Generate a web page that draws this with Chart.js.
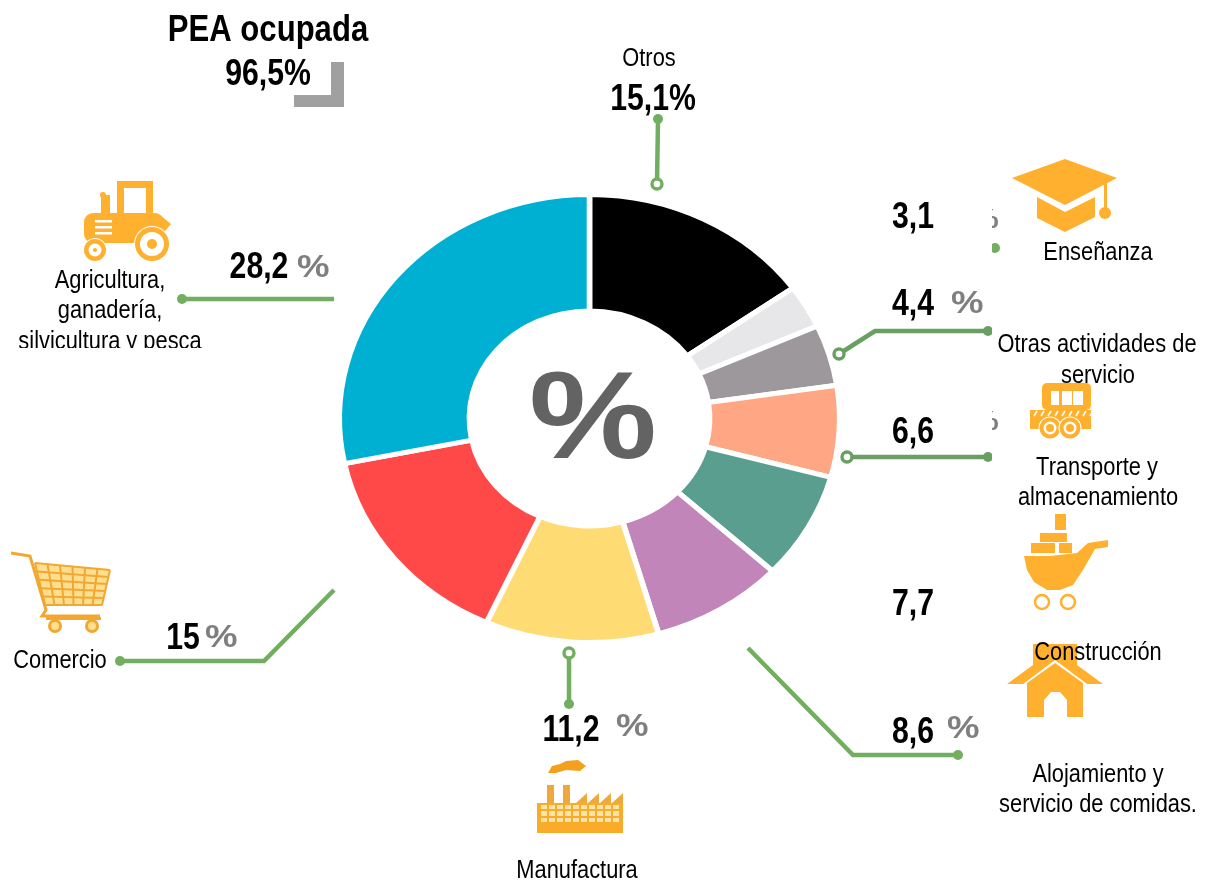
<!DOCTYPE html>
<html><head><meta charset="utf-8">
<style>html,body{margin:0;padding:0;background:#fff}canvas{display:block}</style>
<script src="https://cdn.jsdelivr.net/npm/chart.js@4"></script>
</head><body>
<canvas id="c" width="1211" height="884"></canvas>
<script>
const categories = ["Otros","Enseñanza","Otras actividades de servicio","Transporte y almacenamiento","Construcción","Alojamiento y servicio de comidas.","Manufactura","Comercio","Agricultura, ganadería, silvicultura y pesca"];
const shares = [15.1,3.1,4.4,6.6,7.7,8.6,11.2,15,28.2];
const sliceColors = ["#000000","#E7E7E9","#9C989C","#FFA784","#5A9E90","#C285BA","#FFDB73","#FF4949","#00B0D2"];
const title = "PEA ocupada";
const titleValue = "96,5%";

const ORANGE="#FFB02E", GREEN="#72AE60", GREEN2="#6A9F62", GREY="#7F7F7F";
const CX=589.5, CY=418.5, SX=1.117;
const fmt=v=>String(v).replace('.',',');
const FACE="Arial, 'Liberation Sans', Roboto, sans-serif";
const NORMAL="26px "+FACE, BOLD="bold 36px "+FACE;
const NARROW=0.84;

function txt(c,s,x,y,font,align,color,sx){c.save();c.translate(x,y);c.scale(sx||NARROW,1);c.font=font;c.textAlign=align||'center';c.textBaseline='alphabetic';c.fillStyle=color||'#000';c.fillText(s,0,0);c.restore();}
function pct(c,x,y,size,sx,color){txt(c,'%',x,y,"bold "+size+"px "+FACE,'left',color||GREY,sx);}
function leader(c,pts,color,w){c.strokeStyle=color;c.lineWidth=w||4.5;c.lineJoin='miter';c.beginPath();pts.forEach((p,i)=>i?c.lineTo(p[0],p[1]):c.moveTo(p[0],p[1]));c.stroke();}
function dot(c,x,y,color,r){c.fillStyle=color;c.beginPath();c.arc(x,y,r||5,0,7);c.fill();}
function ring(c,x,y,color){c.fillStyle='#fff';c.strokeStyle=color;c.lineWidth=3.4;c.beginPath();c.arc(x,y,5,0,7);c.fill();c.stroke();}
function poly(c,pts,color){c.fillStyle=color;c.beginPath();pts.forEach((p,i)=>i?c.lineTo(p[0],p[1]):c.moveTo(p[0],p[1]));c.closePath();c.fill();}
function rect(c,x,y,w,h,color){c.fillStyle=color;c.fillRect(x,y,w,h);}
function disc(c,x,y,r,color){c.fillStyle=color;c.beginPath();c.arc(x,y,r,0,7);c.fill();}

function tractor(c){const O=ORANGE,W='#fff';
  rect(c,117,181,36,34,O);rect(c,124,188,22,25,W);
  rect(c,101,195,9,20,O);disc(c,103,195,3,O);
  c.fillStyle=O;c.beginPath();c.roundRect(84,213,80,30,9);c.fill();poly(c,[[160,215],[171,224],[164,232]],O);
  [220,226,232].forEach(y=>rect(c,95,y,17,2.5,W));
  disc(c,152,244,18,W);disc(c,152,244,17,O);disc(c,152,244,12,W);disc(c,152,244,5,O);
  disc(c,95,250,12,W);disc(c,95,250,11,O);disc(c,95,250,6.5,W);disc(c,95,250,2,O);
}
function cap(c){const O=ORANGE;
  poly(c,[[1012,178],[1065,159],[1117,178],[1065,205]],O);
  poly(c,[[1037,197],[1065,212],[1095,197],[1095,217],[1065,232],[1037,218]],O);
  rect(c,1104,183,3,28,O);disc(c,1105,213,6,O);
}
function loader(c){const O=ORANGE,W='#fff';
  c.fillStyle=O;c.beginPath();c.roundRect(1042,383,49,27,5);c.fill();
  [[1051,8],[1062,10],[1073,10]].forEach(a=>rect(c,a[0],391,a[1],14,W));
  rect(c,1030,410,61,19,O);
  c.strokeStyle=W;c.lineWidth=1.6;for(let x=1034;x<1091;x+=7){c.beginPath();c.moveTo(x,416);c.lineTo(x+3,411);c.stroke();}
  [1050,1070].forEach(x=>{disc(c,x,428,11.5,W);disc(c,x,428,10.5,O);disc(c,x,428,6.5,W);disc(c,x,428,4,O);});
}
function ship(c){const O=ORANGE;
  rect(c,1055,514,11,16,O);rect(c,1040,533,27,9,O);rect(c,1031,543,24,10,O);rect(c,1059,543,13,10,O);
  poly(c,[[1024,556],[1050,556],[1077,553],[1088,543],[1108,540],[1108,547],[1095,549],[1083,570],[1073,585],[1060,590],[1047,590],[1034,582],[1027,570]],O);
  c.strokeStyle=O;c.lineWidth=2.5;[1042,1068].forEach(x=>{c.beginPath();c.arc(x,602,7,0,7);c.stroke();});
}
function house(c){const O=ORANGE;
  c.save();c.beginPath();c.rect(1000,644,110,80);c.clip();
  poly(c,[[1007,684],[1033,665],[1033,640],[1077,640],[1077,665],[1103,684],[1087,684],[1055,660],[1023,684]],O);
  poly(c,[[1027,683],[1055,663],[1083,683],[1083,717],[1067,717],[1067,700],[1060,692],[1051,692],[1044,700],[1044,717],[1027,717]],O);
  c.restore();
}
function factory(c){const O="#F9AC2A",P="#FFE3A8";
  rect(c,537,803,86,30,O);
  for(let x=541;x<620;x+=8){rect(c,x,805,6,4,P);rect(c,x,811,6,5,P);rect(c,x,818,6,4,P);}
  rect(c,537,825,86,8,O);
  poly(c,[[548,773],[552,766],[560,764],[566,761],[578,760],[586,766],[580,771],[566,770],[556,773]],"#F4A01F");
  rect(c,547,785,7,18,"#EFA83A");rect(c,563,785,7,18,"#EFA83A");
  for(let x=576;x<613;x+=12)poly(c,[[x,803],[x+11,793],[x+11,803]],"#EFA83A");
}
function cart(c){const O="#F2A733",P="#FFDF8E";
  poly(c,[[35,563],[110,570],[102,605],[45,605]],P);
  c.strokeStyle=O;c.lineWidth=2;
  for(let i=0;i<=6;i++){const t=i/6;c.beginPath();c.moveTo(35+t*75,563+t*7);c.lineTo(45+t*57,605);c.stroke();}
  for(let i=0;i<=5;i++){const t=i/5,a=[35+t*10,563+t*42],b=[110-t*8,570+t*35];c.beginPath();c.moveTo(a[0],a[1]);c.lineTo(b[0],b[1]);c.stroke();}
  c.lineWidth=3;c.beginPath();c.moveTo(11,553);c.lineTo(30,556);c.lineTo(46,610);c.lineTo(42,616);c.lineTo(100,616);c.stroke();
  rect(c,46,617,55,3,O);
  c.lineWidth=3;[55,92].forEach(x=>{c.strokeStyle=O;c.fillStyle=P;c.beginPath();c.arc(x,626,5.5,0,7);c.fill();c.stroke();});
}

const ellipse={id:'ellipse',
  beforeDatasetsDraw(ch){const c=ch.ctx;c.save();c.translate(CX,CY);c.scale(SX,1);c.translate(-CX,-CY);},
  afterDatasetsDraw(ch){ch.ctx.restore();}};

const decor={id:'decor',afterDraw(ch){const c=ch.ctx;c.save();
  // centre sign
  txt(c,'%',593,458,"bold 124px "+FACE,'center','#636363',1.16);
  // heading
  txt(c,title,268,41,"bold 37px "+FACE);
  txt(c,titleValue,268,85,BOLD);
  poly(c,[[331,62],[344,62],[344,107],[294,107],[294,95],[331,95]],'#A0A0A0');
  // leaders
  leader(c,[[182,299],[334,299]],GREEN);dot(c,182,299,GREEN);
  leader(c,[[120,661],[264,661],[334,590]],GREEN);dot(c,120,661,GREEN);
  leader(c,[[657,184],[658,119]],GREEN);dot(c,658,119,GREEN);ring(c,657,184,GREEN);
  leader(c,[[569,653],[569,704]],GREEN);dot(c,569,704,GREEN);ring(c,569,653,GREEN);
  leader(c,[[748,648],[853,755],[958,755]],GREEN);dot(c,958,755,GREEN);
  c.save();c.beginPath();c.rect(800,150,192,340);c.clip();
  leader(c,[[839,354],[875,331],[992,331]],GREEN2);dot(c,988,331,GREEN2);ring(c,839,354,GREEN2);
  leader(c,[[847,457],[992,457]],GREEN2);dot(c,988,457,GREEN2);ring(c,847,457,GREEN2);
  c.restore();
  c.save();c.beginPath();c.rect(992,150,20,300);c.clip();
  dot(c,995,248,GREEN);
  pct(c,970,228,27,1.2);
  pct(c,970,430,27,1.2);
  c.restore();
  // values
  txt(c,fmt(shares[0])+'%',653,110,BOLD);
  txt(c,fmt(shares[1]),913,228,BOLD);
  txt(c,fmt(shares[2]),913,315,BOLD);pct(c,951,313,31,1.18);
  txt(c,fmt(shares[3]),913,443,BOLD);
  txt(c,fmt(shares[4]),913,615,BOLD);
  txt(c,fmt(shares[5]),913,743,BOLD);pct(c,947,738,31,1.18);
  txt(c,fmt(shares[6]),571,741,BOLD);pct(c,616,736,31,1.18);
  txt(c,fmt(shares[7]),183,649,BOLD);pct(c,205,647,31,1.18);
  txt(c,fmt(shares[8]),259,278,BOLD);pct(c,297,277,31,1.18);
  // icons
  tractor(c);cap(c);loader(c);ship(c);house(c);factory(c);cart(c);
  // category labels
  txt(c,"Otros",649,66,NORMAL);
  txt(c,"Enseñanza",1098,260,NORMAL);
  txt(c,"Otras actividades de",1097,352,NORMAL);
  txt(c,"servicio",1098,383,NORMAL);
  txt(c,"Transporte y",1097,475,NORMAL);
  txt(c,"almacenamiento",1098,505,NORMAL);
  txt(c,"Construcción",1098,660,NORMAL);
  txt(c,"Alojamiento y",1098,782,NORMAL);
  txt(c,"servicio de comidas.",1098,812,NORMAL);
  txt(c,"Manufactura",577,878,NORMAL);
  txt(c,"Comercio",60,668,NORMAL);
  txt(c,"Agricultura,",110,288,NORMAL);
  txt(c,"ganadería,",110,318,NORMAL);
  c.save();c.beginPath();c.rect(0,320,340,28);c.clip();
  txt(c,"silvicultura y pesca",110,349,NORMAL);
  c.restore();
  c.restore();
}};

new Chart(document.getElementById('c'),{
  type:'doughnut',
  data:{labels:categories,datasets:[{data:shares,backgroundColor:sliceColors,borderColor:'#fff',borderWidth:5,borderAlign:'center'}]},
  options:{responsive:false,animation:false,radius:224,cutout:'48%',
    layout:{padding:{left:0,top:0,right:32,bottom:47}},
    plugins:{legend:{display:false},tooltip:{enabled:false},title:{display:false}}},
  plugins:[ellipse,decor]
});
</script>
</body></html>
